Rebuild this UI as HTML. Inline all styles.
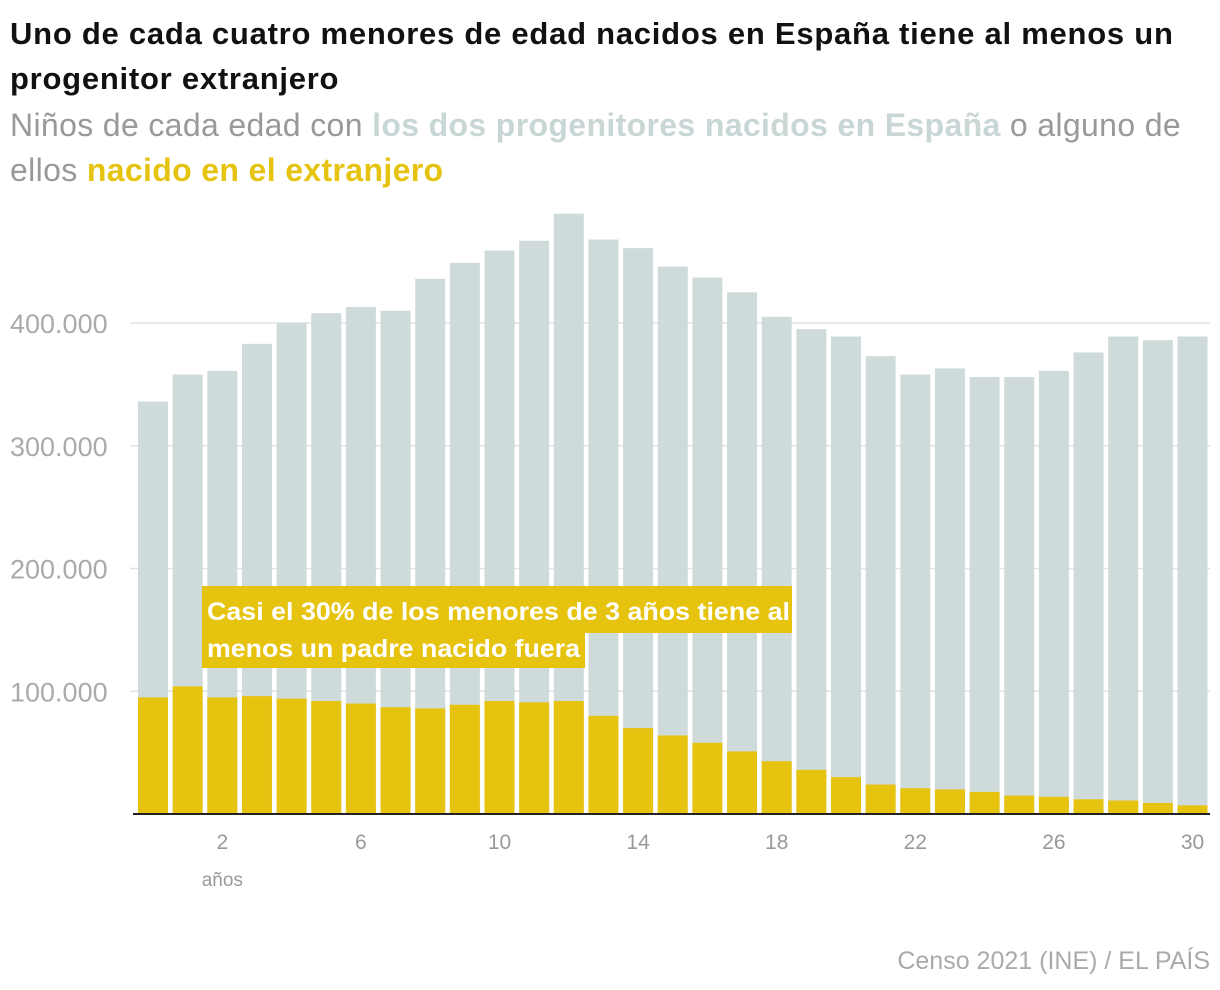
<!DOCTYPE html>
<html><head><meta charset="utf-8">
<style>
body{margin:0;background:#fff;width:1220px;height:990px;overflow:hidden;font-family:"Liberation Sans",sans-serif;}
#title{position:absolute;left:10px;top:11px;width:1215px;white-space:nowrap;font-weight:bold;font-size:31px;letter-spacing:0.75px;line-height:45px;color:#111;margin:0;}
#subtitle{position:absolute;left:10px;top:103px;width:1215px;white-space:nowrap;font-size:32px;letter-spacing:0.35px;line-height:45px;color:#999;margin:0;}
.blue{color:#c9d6d6;font-weight:bold}.yel{color:#e6c30f;font-weight:bold}
svg{position:absolute;left:0;top:0}
</style></head><body>
<h1 id="title">Uno de cada cuatro menores de edad nacidos en España tiene al menos un<br>progenitor extranjero</h1>
<p id="subtitle">Niños de cada edad con <span class="blue">los dos progenitores nacidos en España</span> o alguno de<br>ellos <span class="yel">nacido en el extranjero</span></p>
<svg id="chart" width="1220" height="990"></svg>
<script>
const ages=[0,1,2,3,4,5,6,7,8,9,10,11,12,13,14,15,16,17,18,19,20,21,22,23,24,25,26,27,28,29,30];
const totals=[336,358,361,383,400,408,413,410,436,449,459,467,489,468,461,446,437,425,405,395,389,373,358,363,356,356,361,376,389,386,389];
const foreign=[95,104,95,96,94,92,90,87,86,89,92,91,92,80,70,64,58,51,43,36,30,24,21,20,18,15,14,12,11,9,7];
const yTicks=[100,200,300,400];
const yTickLabels=["100.000","200.000","300.000","400.000"];
const xTicks=[2,6,10,14,18,22,26,30];

const NS="http://www.w3.org/2000/svg";
const svg=document.getElementById('chart');
const y=v=>814-v*1.2275;
const x=a=>153+a*34.65;
const bw=30;
function mk(t,attrs){const e=document.createElementNS(NS,t);for(const k in attrs)e.setAttribute(k,attrs[k]);svg.appendChild(e);return e;}
yTicks.forEach((v,i)=>{
  const g=mk('line',{x1:130,x2:1210,y1:y(v),y2:y(v),stroke:'#e3e3e3','stroke-width':1.5});
  
  
});
ages.forEach((a,i)=>{
  const r=mk('rect',{x:x(a)-bw/2,y:y(totals[i]),width:bw,height:y(0)-y(totals[i]),fill:'#cfdbdb'});
  
  
  const f=mk('rect',{x:x(a)-bw/2,y:y(foreign[i]),width:bw,height:y(0)-y(foreign[i]),fill:'#e6c30f'});
  
  
});
yTicks.forEach((v,i)=>{
  const t=mk('text',{x:10,y:y(v)+10,'font-size':27,fill:'#aaa','font-family':'Liberation Sans, sans-serif'});
  t.textContent=yTickLabels[i];
  
  
});
const ax=mk('line',{x1:133,x2:1210,y1:814,y2:814,stroke:'#222','stroke-width':2});


xTicks.forEach(a=>{
  const t=mk('text',{x:x(a),y:849,'font-size':21,fill:'#999','text-anchor':'middle','font-family':'Liberation Sans, sans-serif'});
  t.textContent=a;
  
  
});
const u=mk('text',{x:x(2),y:886,'font-size':19,fill:'#999','text-anchor':'middle','font-family':'Liberation Sans, sans-serif'});
u.textContent='años';


const b1=mk('rect',{x:202,y:586,width:590,height:47,fill:'#e6c30f'});


const b2=mk('rect',{x:202,y:630,width:383,height:38,fill:'#e6c30f'});


const lines=['Casi el 30% de los menores de 3 años tiene al','menos un padre nacido fuera'];
lines.forEach((s,i)=>{
  const t=mk('text',{x:207,y:620+i*37,'font-size':25,'font-weight':'bold',fill:'#fff','font-family':'Liberation Sans, sans-serif',textLength:i==0?583:373,lengthAdjust:'spacingAndGlyphs'});
  t.textContent=s;
  
  
});
const src=mk('text',{x:1210,y:969,'font-size':25,fill:'#aaa','text-anchor':'end','font-family':'Liberation Sans, sans-serif'});
src.textContent='Censo 2021 (INE) / EL PAÍS';


</script>
</body></html>
